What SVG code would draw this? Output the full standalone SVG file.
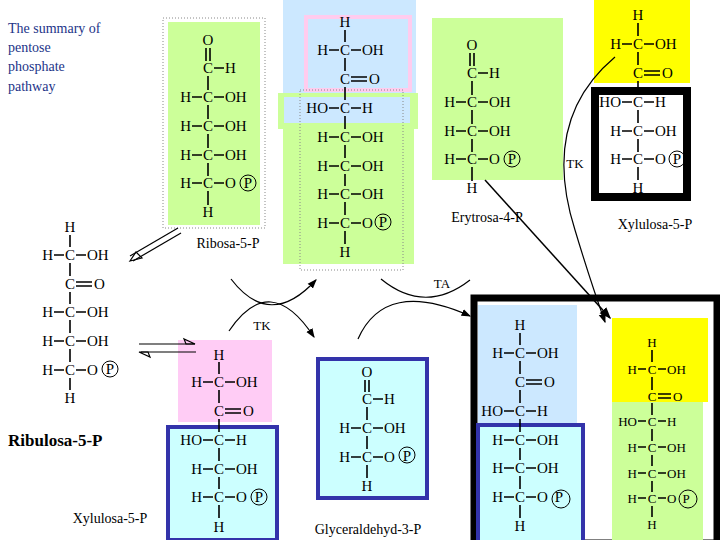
<svg xmlns="http://www.w3.org/2000/svg" width="720" height="540" viewBox="0 0 720 540">
<style>
text{font-family:'Liberation Serif','Times New Roman',Times,serif;font-size:15px;fill:#000}
.l{text-anchor:end}.m{text-anchor:middle}
.b path{stroke:#000;stroke-width:1.6;fill:none}
.pc{fill:none;stroke:#000;stroke-width:1}
.lab{font-size:14px}
.sm{font-size:13px}
.con path,.con line{stroke:#000;stroke-width:1.2;fill:none}
.ti{fill:#223388;font-size:14px}
</style>
<defs><marker id="ah" markerWidth="8" markerHeight="8" refX="7" refY="4" orient="auto"><path d="M0,1 L8,4 L0,7 Z" fill="#000"/></marker></defs>
<rect width="720" height="540" fill="#fff"/>
<g id="title" font-family="Liberation Serif"><text x="8" y="33" class="ti">The summary of</text><text x="8" y="52" class="ti">pentose</text><text x="8" y="71" class="ti">phosphate</text><text x="8" y="91" class="ti">pathway</text></g>

<g id="ribose5p">
<rect x="163" y="18" width="102" height="210" fill="none" stroke="#888" stroke-dasharray="1,2"/>
<rect x="168" y="22" width="92" height="203" fill="#ccff99"/>
<g transform="translate(208,0)" class="b">
<text x="0" y="45" class="m">O</text><text x="0" y="73" class="m">C</text><text x="17" y="73">H</text>
<text x="-17" y="102" class="l">H</text><text x="0" y="102" class="m">C</text><text x="17" y="102">OH</text>
<text x="-17" y="131" class="l">H</text><text x="0" y="131" class="m">C</text><text x="17" y="131">OH</text>
<text x="-17" y="160" class="l">H</text><text x="0" y="160" class="m">C</text><text x="17" y="160">OH</text>
<text x="-17" y="188" class="l">H</text><text x="0" y="188" class="m">C</text><text x="17" y="188">O</text><circle cx="40" cy="183" r="8" class="pc"/><text x="40" y="188" class="m">P</text>
<text x="0" y="217" class="m">H</text>
<path d="M-2 48V61M2 48V61M6 68H16M0 76V90M-16 97H-6M6 97H16M0 105V119M-16 126H-6M6 126H16M0 134V148M-16 155H-6M6 155H16M0 163V176M-16 183H-6M6 183H16M0 191V205"/>
</g>
<text x="228" y="248" class="m lab">Ribosa-5-P</text>
</g>

<g id="sedoheptulose">
<rect x="283" y="0" width="133" height="95" fill="#cce8ff"/>
<rect x="306" y="17" width="104" height="73" fill="none" stroke="#ffccee" stroke-width="4"/>
<rect x="278" y="93" width="140" height="36" fill="#ccff99"/>
<rect x="284" y="97" width="126" height="26" fill="#cce8ff"/>
<rect x="283" y="129" width="131" height="135" fill="#ccff99"/>
<rect x="300" y="90" width="103" height="180" fill="none" stroke="#888" stroke-dasharray="1,2"/>
<g transform="translate(345,0)" class="b">
<text x="0" y="27" class="m">H</text>
<text x="-17" y="55" class="l">H</text><text x="0" y="55" class="m">C</text><text x="17" y="55">OH</text>
<text x="0" y="84" class="m">C</text><text x="24" y="84">O</text>
<text x="-17" y="113" class="l">HO</text><text x="0" y="113" class="m">C</text><text x="17" y="113">H</text>
<text x="-17" y="142" class="l">H</text><text x="0" y="142" class="m">C</text><text x="17" y="142">OH</text>
<text x="-17" y="171" class="l">H</text><text x="0" y="171" class="m">C</text><text x="17" y="171">OH</text>
<text x="-17" y="199" class="l">H</text><text x="0" y="199" class="m">C</text><text x="17" y="199">OH</text>
<text x="-17" y="228" class="l">H</text><text x="0" y="228" class="m">C</text><text x="17" y="228">O</text><circle cx="38" cy="222" r="8" class="pc"/><text x="38" y="227" class="m">P</text>
<text x="0" y="257" class="m">H</text>
<path d="M0 30V42M-16 50H-6M6 50H16M0 58V71M6 77H22M6 81H22M0 87V100M-16 108H-6M6 108H16M0 116V129M-16 137H-6M6 137H16M0 145V158M-16 166H-6M6 166H16M0 174V186M-16 194H-6M6 194H16M0 202V215M-16 223H-6M6 223H16M0 231V244"/>
</g>
</g>

<g id="erythrose4p">
<rect x="432" y="18" width="131" height="162" fill="#ccff99"/>
<g transform="translate(472,0)" class="b">
<text x="0" y="50" class="m">O</text><text x="0" y="78" class="m">C</text><text x="17" y="78">H</text>
<text x="-17" y="107" class="l">H</text><text x="0" y="107" class="m">C</text><text x="17" y="107">OH</text>
<text x="-17" y="136" class="l">H</text><text x="0" y="136" class="m">C</text><text x="17" y="136">OH</text>
<text x="-17" y="164" class="l">H</text><text x="0" y="164" class="m">C</text><text x="17" y="164">O</text><circle cx="40" cy="159" r="8" class="pc"/><text x="40" y="164" class="m">P</text>
<text x="0" y="193" class="m">H</text>
<path d="M-2 53V66M2 53V66M6 73H16M0 81V95M-16 102H-6M6 102H16M0 110V124M-16 131H-6M6 131H16M0 139V152M-16 159H-6M6 159H16M0 167V181"/>
</g>
<text x="487" y="222" class="m lab">Erytrosa-4-P</text>
</g>

<g id="xylulose5p-top">
<rect x="594" y="0" width="96" height="83" fill="#ffff00"/>
<rect x="595" y="91" width="92" height="106" fill="#fff" stroke="#000" stroke-width="8"/>
<g transform="translate(638,0)" class="b">
<text x="0" y="20" class="m">H</text>
<text x="-17" y="49" class="l">H</text><text x="0" y="49" class="m">C</text><text x="17" y="49">OH</text>
<text x="0" y="78" class="m">C</text><text x="24" y="78">O</text>
<text x="-17" y="107" class="l">HO</text><text x="0" y="107" class="m">C</text><text x="17" y="107">H</text>
<text x="-17" y="136" class="l">H</text><text x="0" y="136" class="m">C</text><text x="17" y="136">OH</text>
<text x="-17" y="164" class="l">H</text><text x="0" y="164" class="m">C</text><text x="17" y="164">O</text><circle cx="39" cy="159" r="8" class="pc"/><text x="39" y="164" class="m">P</text>
<text x="0" y="193" class="m">H</text>
<path d="M0 23V36M-16 44H-6M6 44H16M0 52V65M6 71H22M6 75H22M0 81V94M-16 102H-6M6 102H16M0 110V123M-16 131H-6M6 131H16M0 139V152M-16 159H-6M6 159H16M0 167V180"/>
</g>
<text x="655" y="229" class="m lab">Xylulosa-5-P</text>
<text x="575" y="168" class="m sm">TK</text>
</g>

<g id="ribulose5p">
<g transform="translate(70,0)" class="b">
<text x="0" y="232" class="m">H</text>
<text x="-17" y="260" class="l">H</text><text x="0" y="260" class="m">C</text><text x="17" y="260">OH</text>
<text x="0" y="289" class="m">C</text><text x="24" y="289">O</text>
<text x="-17" y="317" class="l">H</text><text x="0" y="317" class="m">C</text><text x="17" y="317">OH</text>
<text x="-17" y="346" class="l">H</text><text x="0" y="346" class="m">C</text><text x="17" y="346">OH</text>
<text x="-17" y="375" class="l">H</text><text x="0" y="375" class="m">C</text><text x="17" y="375">O</text><circle cx="40" cy="369" r="8" class="pc"/><text x="40" y="374" class="m">P</text>
<text x="0" y="403" class="m">H</text>
<path d="M0 235V247M-16 255H-6M6 255H16M0 263V276M6 282H22M6 286H22M0 292V304M-16 312H-6M6 312H16M0 320V333M-16 341H-6M6 341H16M0 349V362M-16 370H-6M6 370H16M0 378V390"/>
</g>
<text x="8" y="446" style="font-weight:bold;font-size:17px">Ribulosa-5-P</text>
</g>

<g id="xylulose5p-left">
<rect x="178" y="340" width="94" height="82" fill="#ffccf5"/>
<rect x="168" y="427" width="109" height="113" fill="#ccffff" stroke="#3333aa" stroke-width="4"/>
<g transform="translate(219,0)" class="b">
<text x="0" y="360" class="m">H</text>
<text x="-17" y="387" class="l">H</text><text x="0" y="387" class="m">C</text><text x="17" y="387">OH</text>
<text x="0" y="416" class="m">C</text><text x="24" y="416">O</text>
<text x="-17" y="445" class="l">HO</text><text x="0" y="445" class="m">C</text><text x="17" y="445">H</text>
<text x="-17" y="474" class="l">H</text><text x="0" y="474" class="m">C</text><text x="17" y="474">OH</text>
<text x="-17" y="502" class="l">H</text><text x="0" y="502" class="m">C</text><text x="17" y="502">O</text><circle cx="40" cy="497" r="8" class="pc"/><text x="40" y="502" class="m">P</text>
<text x="0" y="532" class="m">H</text>
<path d="M0 362V374M-16 382H-6M6 382H16M0 390V403M6 409H22M6 413H22M0 419V432M-16 440H-6M6 440H16M0 448V461M-16 469H-6M6 469H16M0 477V489M-16 497H-6M6 497H16M0 505V518"/>
</g>
<text x="110" y="523" class="m lab">Xylulosa-5-P</text>
</g>

<g id="glyceraldehyde3p">
<rect x="318" y="359" width="109" height="139" fill="#ccffff" stroke="#3333aa" stroke-width="4"/>
<g transform="translate(367,0)" class="b">
<text x="0" y="377" class="m">O</text><text x="0" y="404" class="m">C</text><text x="17" y="404">H</text>
<text x="-17" y="433" class="l">H</text><text x="0" y="433" class="m">C</text><text x="17" y="433">OH</text>
<text x="-17" y="462" class="l">H</text><text x="0" y="462" class="m">C</text><text x="17" y="462">O</text><circle cx="40" cy="455" r="8" class="pc"/><text x="40" y="461" class="m">P</text>
<text x="0" y="491" class="m">H</text>
<path d="M-2 380V392M2 380V392M6 399H16M0 407V420M-16 428H-6M6 428H16M0 436V449M-16 457H-6M6 457H16M0 465V478"/>
</g>
<text x="368" y="534" class="m lab">Glyceraldehyd-3-P</text>
</g>

<g id="product-left">
<rect x="474" y="298" width="243" height="245" fill="none" stroke="#000" stroke-width="7"/>
<rect x="478" y="305" width="99" height="120" fill="#cce8ff"/>
<rect x="478" y="425" width="105" height="118" fill="#ccffff" stroke="#3333aa" stroke-width="4"/>
<g transform="translate(520,0)" class="b">
<text x="0" y="330" class="m">H</text>
<text x="-17" y="358" class="l">H</text><text x="0" y="358" class="m">C</text><text x="17" y="358">OH</text>
<text x="0" y="387" class="m">C</text><text x="24" y="387">O</text>
<text x="-17" y="416" class="l">HO</text><text x="0" y="416" class="m">C</text><text x="17" y="416">H</text>
<text x="-17" y="445" class="l">H</text><text x="0" y="445" class="m">C</text><text x="17" y="445">OH</text>
<text x="-17" y="473" class="l">H</text><text x="0" y="473" class="m">C</text><text x="17" y="473">OH</text>
<text x="-17" y="502" class="l">H</text><text x="0" y="502" class="m">C</text><text x="17" y="502">O</text><circle cx="41" cy="499" r="9" class="pc"/><text x="39" y="502" class="m">P</text>
<text x="0" y="531" class="m">H</text>
<path d="M0 333V345M-16 353H-6M6 353H16M0 361V374M6 380H22M6 384H22M0 390V403M-16 411H-6M6 411H16M0 419V432M-16 440H-6M6 440H16M0 448V460M-16 468H-6M6 468H16M0 476V489M-16 497H-6M6 497H16M0 505V518"/>
</g>
</g>

<g id="product-right">
<rect x="612" y="318" width="96" height="84" fill="#ffff00"/>
<rect x="612" y="402" width="91" height="138" fill="#ccff99"/>
<g transform="translate(652,0)" class="b">
<text x="0" y="347" class="m sm">H</text>
<text x="-15" y="374" class="l sm">H</text><text x="0" y="374" class="m sm">C</text><text x="15" y="374" class="sm">OH</text>
<text x="0" y="401" class="m sm">C</text><text x="21" y="401" class="sm">O</text>
<text x="-15" y="426" class="l sm">HO</text><text x="0" y="426" class="m sm">C</text><text x="15" y="426" class="sm">H</text>
<text x="-15" y="452" class="l sm">H</text><text x="0" y="452" class="m sm">C</text><text x="15" y="452" class="sm">OH</text>
<text x="-15" y="478" class="l sm">H</text><text x="0" y="478" class="m sm">C</text><text x="15" y="478" class="sm">OH</text>
<text x="-15" y="503" class="l sm">H</text><text x="0" y="503" class="m sm">C</text><text x="15" y="503" class="sm">O</text><circle cx="36" cy="499" r="9" class="pc"/><text x="34" y="503" class="m sm">P</text>
<text x="0" y="529" class="m sm">H</text>
<path d="M0 350V362M-14 369H-6M6 369H14M0 377V390M6 394H19M6 398H19M0 403V415M-14 421H-6M6 421H14M0 429V441M-14 447H-6M6 447H14M0 455V466M-14 473H-6M6 473H14M0 481V492M-14 498H-6M6 498H14M0 506V517"/>
</g>
</g>

<g id="connectors" class="con">
<line x1="130" y1="256" x2="178" y2="228"/><line x1="133" y1="261" x2="181" y2="233"/><path d="M130 261 L142 258 L136 252 Z" fill="#000"/>
<line x1="139" y1="344" x2="195" y2="344"/><path d="M195 344 L184 339 L186 344 Z" fill="#000"/>
<line x1="141" y1="352" x2="196" y2="352"/><path d="M139 352 L150 357 L148 352 Z" fill="#000"/>
<path d="M231 279 Q270 330 316 280" marker-end="url(#ah)"/>
<path d="M229 331 Q270 270 314 337" marker-end="url(#ah)"/>
<text x="262" y="330" class="m sm" style="stroke:none">TK</text>
<path d="M381 279 Q425 315 470 280"/>
<path d="M358 339 Q385 278 470 316" marker-end="url(#ah)"/>
<text x="442" y="288" class="m sm" style="stroke:none">TA</text>
<path d="M485 180 L610 318" marker-end="url(#ah)" style="stroke-width:1.5"/>
<path d="M615 57 Q540 120 575 230 Q590 280 605 322" marker-end="url(#ah)"/>
</g>
</svg>
